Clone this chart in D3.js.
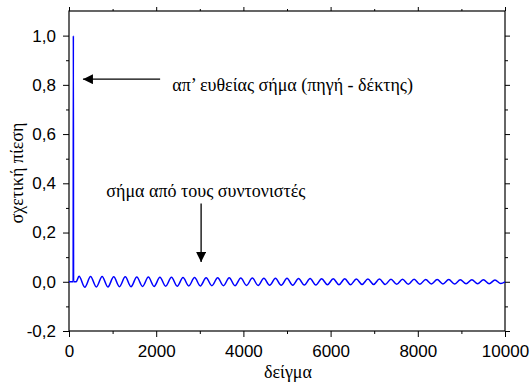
<!DOCTYPE html>
<html>
<head>
<meta charset="utf-8">
<script src="https://cdn.jsdelivr.net/npm/d3@7"></script>
</head>
<body style="margin:0">
<div id="plot"></div>
<script>
// start of trace: flat, direct pulse, flat until the resonator ringing begins
const leadSamples = [0, 95, 100, 105, 165];
const leadValues  = [0, 0, 1.0, 0, 0];

// extrema of the ringing signal (peaks / troughs)
const peakSamples = [230, 495, 760, 1025, 1290, 1555, 1820, 2085, 2350, 2615, 2880, 3145, 3410,
  3675, 3940, 4205, 4470, 4735, 5000, 5265, 5530, 5795, 6060, 6325, 6590, 6855, 7120, 7385,
  7650, 7915, 8180, 8445, 8710, 8975, 9240, 9505, 9770];
const peakValues = [0.022, 0.021, 0.021, 0.020, 0.020, 0.019, 0.019, 0.018, 0.018, 0.017, 0.017,
  0.016, 0.016, 0.016, 0.015, 0.015, 0.014, 0.014, 0.014, 0.013, 0.013, 0.012, 0.012, 0.012,
  0.011, 0.011, 0.011, 0.010, 0.010, 0.010, 0.009, 0.009, 0.009, 0.008, 0.008, 0.008, 0.007];
const troughSamples = [362, 627, 892, 1157, 1422, 1687, 1952, 2217, 2482, 2747, 3012, 3277, 3542,
  3807, 4072, 4337, 4602, 4867, 5132, 5397, 5662, 5927, 6192, 6457, 6722, 6987, 7252, 7517,
  7782, 8047, 8312, 8577, 8842, 9107, 9372, 9637, 9902];
const troughValues = [-0.022, -0.021, -0.021, -0.020, -0.020, -0.019, -0.019, -0.018, -0.018,
  -0.017, -0.017, -0.016, -0.016, -0.016, -0.015, -0.015, -0.014, -0.014, -0.014, -0.013, -0.013,
  -0.012, -0.012, -0.012, -0.011, -0.011, -0.011, -0.010, -0.010, -0.010, -0.009, -0.009, -0.009,
  -0.008, -0.008, -0.008, -0.007];
const endSample = 10000;
const endValue = 0;

const xTicks = [0, 2000, 4000, 6000, 8000, 10000];
const xMinor = [1000, 3000, 5000, 7000, 9000];
const yTicks = [-0.2, 0.0, 0.2, 0.4, 0.6, 0.8, 1.0];
const yMinor = [-0.1, 0.1, 0.3, 0.5, 0.7, 0.9];

const xLabel = "δείγμα";
const yLabel = "σχετική πίεση";
const directText = "απ’ ευθείας σήμα (πηγή - δέκτης)";
const resonText = "σήμα από τους συντονιστές";

let points = leadSamples.map((s, i) => [s, leadValues[i]]);
peakSamples.forEach((s, i) => {
  points.push([s, peakValues[i]]);
  points.push([troughSamples[i], troughValues[i]]);
});
points.push([endSample, endValue]);
points.sort((a, b) => a[0] - b[0]);

const svg = d3.select("#plot").append("svg")
  .attr("width", 531)
  .attr("height", 385);

const margin = {top: 11, right: 26, bottom: 54, left: 69};
const width = 531 - margin.left - margin.right;
const height = 385 - margin.top - margin.bottom;

const x = d3.scaleLinear().domain([0, 10000]).range([0, width]);
const y = d3.scaleLinear().domain([-0.2, 1.1]).range([height, 0]);

const g = svg.append("g").attr("transform", `translate(${margin.left},${margin.top})`);

const fmt = d => d3.format(".1f")(d).replace(".", ",").replace("−", "-");

// axes (labels bottom/left, mirrored ticks top/right)
function styleAxis(sel) {
  sel.select(".domain").remove();
  sel.selectAll(".tick line").attr("stroke", "#000");
  sel.selectAll(".tick text")
    .attr("fill", "#000")
    .style("font-family", "Liberation Sans")
    .style("font-size", "17px");
}
g.append("g").attr("transform", `translate(0,${height})`)
  .call(d3.axisBottom(x).tickValues(xTicks).tickFormat(d3.format("d")).tickSize(6).tickPadding(8))
  .call(styleAxis);
g.append("g").attr("transform", `translate(0,${height})`)
  .call(d3.axisBottom(x).tickValues(xMinor).tickFormat("").tickSize(3))
  .call(styleAxis);
g.append("g")
  .call(d3.axisLeft(y).tickValues(yTicks).tickFormat(fmt).tickSize(6).tickPadding(7))
  .call(styleAxis);
g.append("g")
  .call(d3.axisLeft(y).tickValues(yMinor).tickFormat("").tickSize(3))
  .call(styleAxis);
g.append("g")
  .call(d3.axisTop(x).tickValues(xTicks).tickFormat("").tickSize(4))
  .call(styleAxis);
g.append("g")
  .call(d3.axisTop(x).tickValues(xMinor).tickFormat("").tickSize(2))
  .call(styleAxis);
g.append("g").attr("transform", `translate(${width},0)`)
  .call(d3.axisRight(y).tickValues(yTicks).tickFormat("").tickSize(5))
  .call(styleAxis);
g.append("g").attr("transform", `translate(${width},0)`)
  .call(d3.axisRight(y).tickValues(yMinor).tickFormat("").tickSize(3))
  .call(styleAxis);

g.append("rect")
  .attr("width", width)
  .attr("height", height)
  .attr("fill", "none")
  .attr("stroke", "#000")
  .attr("stroke-width", 1.2);

// signal
const line = d3.line()
  .x(d => x(d[0]))
  .y(d => y(d[1]))
  .curve(d3.curveMonotoneX);

g.append("path")
  .datum(points)
  .attr("d", line)
  .attr("fill", "none")
  .attr("stroke", "#0000ff")
  .attr("stroke-width", 1.5);

// all serif texts: titles and annotations
function serifText(parent) {
  return parent.append("text")
    .style("font-family", "Liberation Serif")
    .style("font-size", "18px")
    .attr("fill", "#000");
}

serifText(svg)
  .attr("x", 288)
  .attr("y", 378)
  .attr("text-anchor", "middle")
  .text(xLabel);

serifText(svg)
  .attr("transform", "translate(23,173) rotate(-90)")
  .attr("text-anchor", "middle")
  .text(yLabel);

// annotations
svg.append("defs").append("marker")
  .attr("id", "head")
  .attr("viewBox", "0 0 10 10")
  .attr("refX", 10)
  .attr("refY", 5)
  .attr("markerUnits", "userSpaceOnUse")
  .attr("markerWidth", 18)
  .attr("markerHeight", 10)
  .attr("orient", "auto")
  .append("path")
  .attr("d", "M0,0L10,5L0,10Z")
  .attr("fill", "#000");

g.append("line")
  .attr("x1", x(2090)).attr("x2", x(320))
  .attr("y1", y(0.823)).attr("y2", y(0.823))
  .attr("stroke", "#000")
  .attr("stroke-width", 1.3)
  .attr("marker-end", "url(#head)");

serifText(g)
  .attr("x", x(2370))
  .attr("y", y(0.774))
  .text(directText);

g.append("line")
  .attr("x1", x(3030)).attr("x2", x(3030))
  .attr("y1", y(0.318)).attr("y2", y(0.08))
  .attr("stroke", "#000")
  .attr("stroke-width", 1.3)
  .attr("marker-end", "url(#head)");

serifText(g)
  .attr("x", x(3140))
  .attr("y", y(0.343))
  .attr("text-anchor", "middle")
  .text(resonText);
</script>
</body>
</html>
